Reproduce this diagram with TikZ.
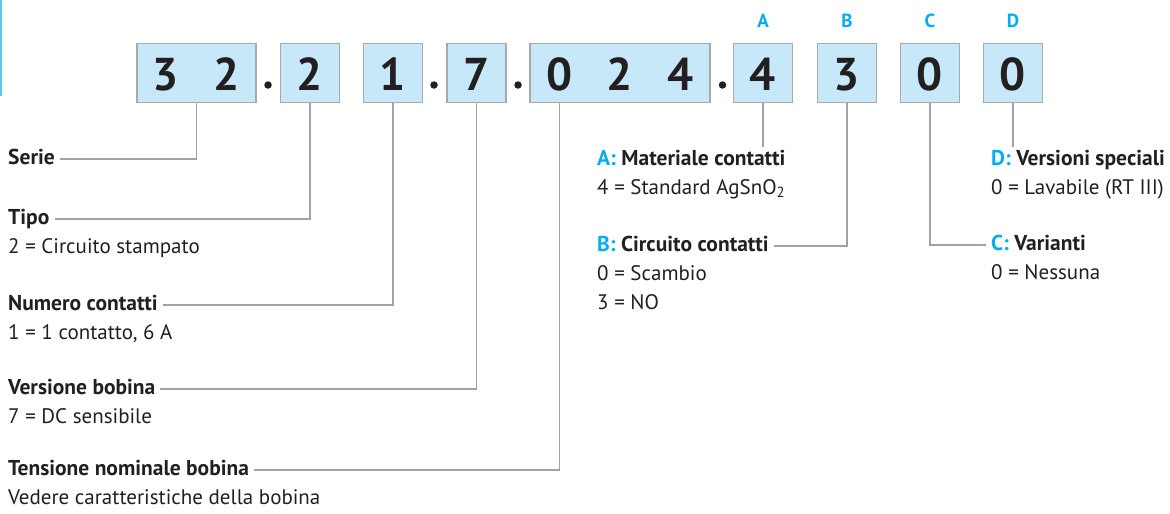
\documentclass[tikz,border=0pt]{standalone}
\usepackage{fontspec}
\setmainfont{PT Sans}
\usepackage{tikz}
\usetikzlibrary{positioning}
\definecolor{boxblue}{RGB}{199,232,248}
\definecolor{boxgray}{RGB}{167,169,172}
\definecolor{linegray}{RGB}{160,162,165}
\definecolor{ink}{RGB}{35,31,32}
\definecolor{cyanA}{RGB}{0,174,239}
\definecolor{edgecyan}{RGB}{90,200,240}

\begin{document}
\begin{tikzpicture}[x=1pt,y=-1pt,
  digitbox/.style={draw=boxgray,fill=boxblue,line width=1.6pt,minimum height=59pt,minimum width=59pt,inner sep=0pt},
  digit/.style={font=\fontsize{46}{46}\selectfont\bfseries,text=ink,anchor=base},
  tag/.style={font=\fontsize{19}{19}\selectfont\bfseries,text=cyanA},
  head/.style={font=\fontsize{21.5}{24}\selectfont\bfseries,text=ink,anchor=west,inner xsep=5pt,inner ysep=8pt,text height=10pt,text depth=0pt},
  value/.style={font=\fontsize{21}{24}\selectfont,text=ink,anchor=west,inner xsep=5pt,text height=10pt,text depth=0pt},
  link/.style={draw=linegray,line width=1.1pt},
  sep/.style={circle,fill=ink,inner sep=0pt,minimum size=7.5pt}]
\useasboundingbox (0,0) rectangle (1170,514);
\draw[edgecyan,line width=1.5pt] (0.75,0) -- (0.75,96);

\node[digitbox,minimum width=119pt] (b32) at (196.5,73) {};
\node[digitbox] (b2) at (310,73) {};
\node[digitbox] (b1) at (393,73) {};
\node[digitbox] (b7) at (476.5,73) {};
\node[digitbox,minimum width=180pt] (b024) at (620,73) {};
\node[digitbox] (bA) at (763,73) {};
\node[digitbox] (bB) at (847,73) {};
\node[digitbox] (bC) at (930,73) {};
\node[digitbox] (bD) at (1013,73) {};

\foreach \d/\x [count=\i] in {3/166,2/226.5,2/310,1/393,7/476.5,0/559.5,2/620,4/680.5,4/763,3/847,0/930,0/1013}
  \node[digit] (d\i) at (\x,90) {\d};

\node[sep] (p1) at (268,85) {};
\node[sep] (p2) at (434,85) {};
\node[sep] (p3) at (518,85) {};
\node[sep] (p4) at (722.5,85) {};

\node[tag] (tA) at (763,21) {A};
\node[tag] (tB) at (847,21) {B};
\node[tag] (tC) at (930,21) {C};
\node[tag] (tD) at (1013,21) {D};

\node[head] (serie) at (3,159) {Serie};
\node[head] (tipo) at (3,219) {Tipo};
\node[value] (tipov) at ([yshift=-29pt]tipo.west) {2 = Circuito stampato};
\node[head] (numero) at (3,305) {Numero contatti};
\node[value] (numerov) at ([yshift=-29pt]numero.west) {1 = 1 contatto, 6 A};
\node[head] (versione) at (3,389) {Versione bobina};
\node[value] (versionev) at ([yshift=-29pt]versione.west) {7 = DC sensibile};
\node[head] (tensione) at (3,470) {Tensione nominale bobina};
\node[value] (tensionev) at ([yshift=-29pt]tensione.west) {Vedere caratteristiche della bobina};

\node[head] (matA) at (592,160) {\textcolor{cyanA}{A:} Materiale contatti};
\node[value] (matAv) at ([yshift=-29pt]matA.west) {4 = Standard AgSnO\textsubscript{2}};
\node[head] (circB) at (592,246) {\textcolor{cyanA}{B:} Circuito contatti};
\node[value] (circBv) at ([yshift=-29pt]circB.west) {0 = Scambio};
\node[value] (circBw) at ([yshift=-29pt]circBv.west) {3 = NO};
\node[head] (verD) at (986,160) {\textcolor{cyanA}{D:} Versioni speciali};
\node[value] (verDv) at ([yshift=-29pt]verD.west) {0 = Lavabile (RT III)};
\node[head] (varC) at (986,245) {\textcolor{cyanA}{C:} Varianti};
\node[value] (varCv) at ([yshift=-29pt]varC.west) {0 = Nessuna};

\draw[link] (b32.south) |- (serie.east);
\draw[link] (b2.south) |- (tipo.east);
\draw[link] (b1.south) |- (numero.east);
\draw[link] (b7.south) |- (versione.east);
\draw[link] (b024.south -| d6) |- (tensione.east);
\draw[link] (bA.south) -- (bA.south |- matA.north);
\draw[link] (bB.south) |- (circB.east);
\draw[link] (bC.south) |- (varC.west);
\draw[link] (bD.south) -- (bD.south |- verD.north);
\end{tikzpicture}
\end{document}
